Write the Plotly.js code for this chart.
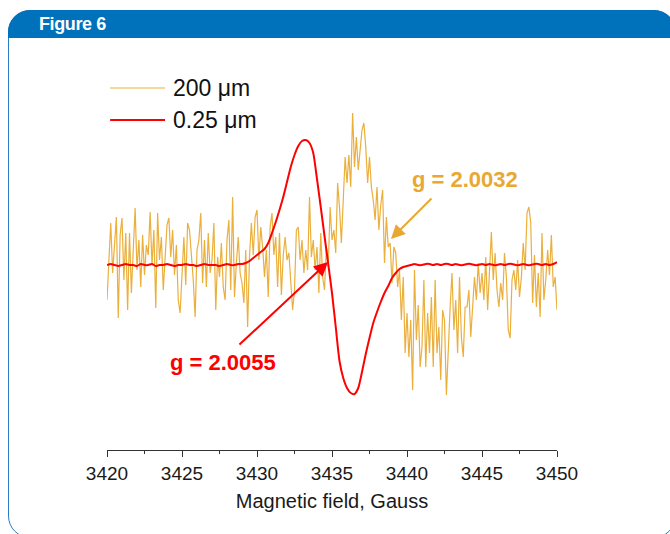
<!DOCTYPE html>
<html>
<head>
<meta charset="utf-8">
<script src="https://cdn.plot.ly/plotly-3.0.1.min.js"></script>
<style>
  html, body { margin: 0; padding: 0; background: #ffffff; width: 670px; height: 534px; overflow: hidden; }
  #frame { position: absolute; left: 8px; top: 10px; width: 668px; height: 528px; border: 1.5px solid #2a7cc4; border-radius: 22px; box-sizing: border-box; background: #ffffff; }
  #header { position: absolute; left: 8px; top: 10px; width: 668px; height: 28px; background: #0071bb; border-top-left-radius: 22px; border-top-right-radius: 22px; }
  #htext { position: absolute; left: 39px; top: 12px; color: #ffffff; font-family: "Liberation Sans", Arial, sans-serif; font-weight: bold; font-size: 18px; letter-spacing: -0.4px; line-height: 24px; }
  #chart { position: absolute; left: 0; top: 0; width: 670px; height: 534px; }
</style>
</head>
<body>
<div id="frame"></div>
<div id="header"></div>
<div id="htext">Figure 6</div>
<div id="chart"></div>
<script>
// Magnetic field (Gauss) for the 200 µm trace
const field200 = [
3420,3420.125,3420.25,3420.375,3420.5,3420.625,3420.75,3420.875,
3421,3421.125,3421.25,3421.375,3421.5,3421.625,3421.75,3421.875,
3422,3422.125,3422.25,3422.375,3422.5,3422.625,3422.75,3422.875,
3423,3423.125,3423.25,3423.375,3423.5,3423.625,3423.75,3423.875,
3424,3424.125,3424.25,3424.375,3424.5,3424.625,3424.75,3424.875,
3425,3425.125,3425.25,3425.375,3425.5,3425.625,3425.75,3425.875,
3426,3426.125,3426.25,3426.375,3426.5,3426.625,3426.75,3426.875,
3427,3427.125,3427.25,3427.375,3427.5,3427.625,3427.75,3427.875,
3428,3428.125,3428.25,3428.375,3428.5,3428.625,3428.75,3428.875,
3429,3429.125,3429.25,3429.375,3429.5,3429.625,3429.75,3429.875,
3430,3430.125,3430.25,3430.375,3430.5,3430.625,3430.75,3430.875,
3431,3431.125,3431.25,3431.375,3431.5,3431.625,3431.75,3431.875,
3432,3432.125,3432.25,3432.375,3432.5,3432.625,3432.75,3432.875,
3433,3433.125,3433.25,3433.375,3433.5,3433.625,3433.75,3433.875,
3434,3434.125,3434.25,3434.375,3434.5,3434.625,3434.75,3434.875,
3435,3435.125,3435.25,3435.375,3435.5,3435.625,3435.75,3435.875,
3436,3436.125,3436.25,3436.375,3436.5,3436.625,3436.75,3436.875,
3437,3437.125,3437.25,3437.375,3437.5,3437.625,3437.75,3437.875,
3438,3438.125,3438.25,3438.375,3438.5,3438.625,3438.75,3438.875,
3439,3439.125,3439.25,3439.375,3439.5,3439.625,3439.75,3439.875,
3440,3440.125,3440.25,3440.375,3440.5,3440.625,3440.75,3440.875,
3441,3441.125,3441.25,3441.375,3441.5,3441.625,3441.75,3441.875,
3442,3442.125,3442.25,3442.375,3442.5,3442.625,3442.75,3442.875,
3443,3443.125,3443.25,3443.375,3443.5,3443.625,3443.75,3443.875,
3444,3444.125,3444.25,3444.375,3444.5,3444.625,3444.75,3444.875,
3445,3445.125,3445.25,3445.375,3445.5,3445.625,3445.75,3445.875,
3446,3446.125,3446.25,3446.375,3446.5,3446.625,3446.75,3446.875,
3447,3447.125,3447.25,3447.375,3447.5,3447.625,3447.75,3447.875,
3448,3448.125,3448.25,3448.375,3448.5,3448.625,3448.75,3448.875,
3449,3449.125,3449.25,3449.375,3449.5,3449.625,3449.75,3449.875,
3450];
// EPR signal (arb. units) of the 200 µm sample
const signal200 = [
-35,10,42,-8,20,48,-53,30,
47,-15,32,-45,32,-28,15,57,
-5,25,-22,30,-10,20,10,53,
0,35,-43,52,5,28,-25,12,
40,47,8,35,-10,20,-35,-48,
-15,28,-20,42,35,10,-15,-52,
15,25,52,-18,25,-22,32,-8,
5,42,-45,8,-12,22,-22,-35,
25,45,-25,68,-32,2,28,-8,
-18,-38,15,-62,8,42,10,48,
55,5,38,18,-12,15,-32,38,
52,10,28,-22,32,-30,10,28,
5,12,-22,-45,-25,35,38,5,
25,-8,15,-5,68,8,25,-5,
18,-28,32,-12,-25,18,-2,58,
25,35,12,82,58,22,65,108,
82,110,78,152,98,128,95,115,
135,142,118,82,108,78,65,45,
78,35,60,75,2,48,18,22,
-18,18,12,-22,-5,-55,-12,-88,
-48,-92,-55,-125,-5,-75,-40,-102,
-82,-15,-102,-48,-88,-32,-102,-15,
-88,-62,-115,-45,-55,-130,-82,-42,
-8,-65,-35,-88,-12,-72,-92,-42,
-42,-25,-72,-42,-12,-35,2,-28,
-8,-35,8,-45,-12,33,-15,12,
-25,-42,-18,-35,12,-12,-65,-73,
-15,-5,-25,5,-32,-12,22,-5,
52,58,42,-38,10,-42,-8,-52,
32,-35,-15,15,-10,30,-22,-12,
-45];
// Magnetic field (Gauss) for the 0.25 µm trace
const field025 = [
3420,3420.25,3420.5,3420.75,3421,3421.25,3421.5,3421.75,
3422,3422.25,3422.5,3422.75,3423,3423.25,3423.5,3423.75,
3424,3424.25,3424.5,3424.75,3425,3425.25,3425.5,3425.75,
3426,3426.25,3426.5,3426.75,3427,3427.25,3427.5,3427.75,
3428,3428.25,3428.5,3428.75,3429,3429.25,3429.5,3429.75,
3430,3430.25,3430.5,3430.75,3431,3431.25,3431.5,3431.75,
3432,3432.25,3432.5,3432.75,3433,3433.25,3433.5,3433.75,
3434,3434.25,3434.5,3434.75,3435,3435.25,3435.5,3435.75,
3436,3436.25,3436.5,3436.75,3437,3437.25,3437.5,3437.75,
3438,3438.25,3438.5,3438.75,3439,3439.25,3439.5,3439.75,
3440,3440.25,3440.5,3440.75,3441,3441.25,3441.5,3441.75,
3442,3442.25,3442.5,3442.75,3443,3443.25,3443.5,3443.75,
3444,3444.25,3444.5,3444.75,3445,3445.25,3445.5,3445.75,
3446,3446.25,3446.5,3446.75,3447,3447.25,3447.5,3447.75,
3448,3448.25,3448.5,3448.75,3449,3449.25,3449.5,3449.75,
3450];
// EPR signal (arb. units) of the 0.25 µm sample
const signal025 = [
0,1,0,-1,0,1,0,0,
-1,1,0,0,1,-1,0,0,
1,0,-1,0,0,1,0,0,
-1,0,1,0,0,0,-1,0,
1,0,0,1,1,2,4,7,
10,13,16,22,32,43,55,68,
83,98,110,119,124,125,122,112,
86,58,29,1,-28,-62,-96,-113,
-123,-128,-129,-123,-107,-89,-73,-58,
-47,-37,-28,-21,-13,-8,-4,-2,
-1,0,1,0,0,1,1,0,
1,0,1,1,0,1,0,0,
1,1,0,0,1,0,1,0,
0,1,0,1,1,0,0,1,
0,0,1,1,0,1,0,1,
3];
const seriesNames = ["200 \u03bcm", "0.25 \u03bcm"];
const gLabels = ["g = 2.0032", "g = 2.0055"];
const xTitle = "Magnetic field, Gauss";

const gold = "#e8a832";
const red = "#ff0000";
const font = "Arial, 'Liberation Sans', sans-serif";

const traces = [
  { x: field200, y: signal200, type: "scatter", mode: "lines", name: seriesNames[0],
    line: { color: "#ebaf3c", width: 1.2 }, showlegend: false, hoverinfo: "skip" },
  { x: field025, y: signal025, type: "scatter", mode: "lines", name: seriesNames[1],
    line: { color: red, width: 2, shape: "spline", smoothing: 0.6 }, showlegend: false, hoverinfo: "skip" }
];

const layout = {
  width: 670, height: 534,
  margin: { l: 107, r: 113, t: 60, b: 84 },
  paper_bgcolor: "rgba(0,0,0,0)",
  plot_bgcolor: "rgba(0,0,0,0)",
  showlegend: false,
  xaxis: {
    range: [3420, 3450], dtick: 5, tick0: 3420,
    showgrid: false, zeroline: false,
    showline: true, linecolor: "#333", linewidth: 1,
    ticks: "outside", ticklen: 6, tickwidth: 1, tickcolor: "#333",
    minor: { ticks: "outside", ticklen: 3, dtick: 2.5, tickcolor: "#333", tickwidth: 1, showgrid: false },
    tickfont: { family: font, size: 19, color: "#1a1a1a" },
    title: { text: xTitle, font: { family: font, size: 20, color: "#1a1a1a" }, standoff: 11 }
  },
  yaxis: { range: [-185, 205], visible: false, showgrid: false, zeroline: false },
  shapes: [
    { type: "line", xref: "paper", yref: "paper", x0: 0.007, x1: 0.129, y0: 0.9282, y1: 0.9282,
      line: { color: "#ebaf3c", width: 1.2 } },
    { type: "line", xref: "paper", yref: "paper", x0: 0.007, x1: 0.129, y0: 0.8462, y1: 0.8462,
      line: { color: red, width: 2 } }
  ],
  annotations: [
    { xref: "paper", yref: "paper", x: 0.143, y: 0.9282, xanchor: "left", yanchor: "middle",
      text: seriesNames[0], showarrow: false, font: { family: font, size: 23, color: "#111" } },
    { xref: "paper", yref: "paper", x: 0.143, y: 0.8462, xanchor: "left", yanchor: "middle",
      text: seriesNames[1], showarrow: false, font: { family: font, size: 23, color: "#111" } },
    { x: 3443.87, y: 86, xref: "x", yref: "y", text: "<b>" + gLabels[0] + "</b>", showarrow: false,
      font: { family: font, size: 22, color: gold } },
    { x: 3438.93, y: 26, ax: 3441.73, ay: 68, xref: "x", yref: "y", axref: "x", ayref: "y",
      text: "", showarrow: true, arrowhead: 2, arrowsize: 1.4, arrowwidth: 2, arrowcolor: gold },
    { x: 3427.73, y: -97, xref: "x", yref: "y", text: "<b>" + gLabels[1] + "</b>", showarrow: false,
      font: { family: font, size: 22, color: red } },
    { x: 3434.73, y: 3, ax: 3428.73, ay: -81, xref: "x", yref: "y", axref: "x", ayref: "y",
      text: "", showarrow: true, arrowhead: 2, arrowsize: 1.4, arrowwidth: 2, arrowcolor: red }
  ]
};

Plotly.newPlot("chart", traces, layout, { displayModeBar: false, staticPlot: true });
</script>
</body>
</html>
